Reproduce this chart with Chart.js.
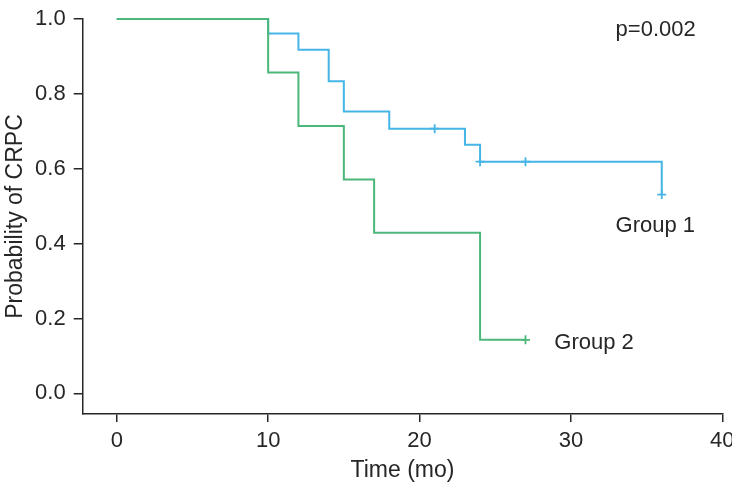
<!DOCTYPE html>
<html>
<head>
<meta charset="utf-8">
<script src="https://cdn.jsdelivr.net/npm/chart.js@4"></script>
<style>
  html, body { margin: 0; padding: 0; background: #fff; }
  #wrap { width: 732px; height: 484px; }
</style>
</head>
<body>
<div id="wrap"><canvas id="myChart"></canvas></div>
<script>

// Kaplan-Meier steps
var group1Times = [0, 10, 12, 14, 15, 18, 21, 23, 24, 27, 36];
var group1Surv = [1.0, 0.961, 0.918, 0.834, 0.753, 0.707, 0.707, 0.664, 0.619, 0.619, 0.531];
var group1CensorTimes = [21, 24, 27, 36];
var group1CensorSurv = [0.707, 0.619, 0.619, 0.531];

var group2Times = [0, 10, 12, 15, 17, 24, 27];
var group2Surv = [1.0, 0.857, 0.714, 0.571, 0.429, 0.143, 0.143];
var group2CensorTimes = [27];
var group2CensorSurv = [0.143];

var xTicks = [0, 10, 20, 30, 40];
var yTicks = [0, 0.2, 0.4, 0.6, 0.8, 1.0];

var blue = '#45b5e6';
var green = '#4cb77a';
var ink = '#262626';
var fontName = '"Liberation Sans", Arial, sans-serif';

function toPoints(xs, ys) {
    return xs.map(function (x, i) { return { x: x, y: ys[i] }; });
}

// text labels placed in data units
var notes = [
    { text: 'p=0.002', x: 35.6, y: 0.971, align: 'center' },
    { text: 'Group 1', x: 32.95, y: 0.447, align: 'left' },
    { text: 'Group 2', x: 28.9, y: 0.134, align: 'left' }
];

var notePlugin = {
    id: 'notes',
    afterDraw: function (chart) {
        var ctx = chart.ctx;
        var xs = chart.scales.x, ys = chart.scales.y;
        ctx.save();
        ctx.fillStyle = ink;
        ctx.font = '22px ' + fontName;
        ctx.textBaseline = 'middle';
        notes.forEach(function (n) {
            ctx.textAlign = n.align;
            ctx.fillText(n.text, xs.getPixelForValue(n.x), ys.getPixelForValue(n.y));
        });
        ctx.restore();
    }
};

function stepSet(label, xs, ys, color) {
    return {
        type: 'line',
        label: label,
        data: toPoints(xs, ys),
        borderColor: color,
        borderWidth: 2,
        stepped: 'before',
        pointRadius: 0,
        fill: false,
        clip: false
    };
}

function censorSet(label, xs, ys, color) {
    return {
        type: 'scatter',
        label: label,
        data: toPoints(xs, ys),
        borderColor: color,
        backgroundColor: color,
        pointStyle: 'cross',
        pointRadius: 4.5,
        pointBorderWidth: 1.8,
        clip: false
    };
}

var ctx = document.getElementById('myChart').getContext('2d');
var myChart = new Chart(ctx, {
    type: 'line',
    data: {
        datasets: [
            stepSet('Group 2', group2Times, group2Surv, green),
            censorSet('Group 2 censored', group2CensorTimes, group2CensorSurv, green),
            stepSet('Group 1', group1Times, group1Surv, blue),
            censorSet('Group 1 censored', group1CensorTimes, group1CensorSurv, blue)
        ]
    },
    options: {
        responsive: true,
        maintainAspectRatio: false,
        animation: false,
        layout: { padding: { top: 19, right: 9.7, left: 0, bottom: 0 } },
        plugins: {
            legend: { display: false },
            tooltip: { enabled: false }
        },
        scales: {
            x: {
                type: 'linear',
                min: -2.25,
                max: 40,
                afterBuildTicks: function (s) {
                    s.ticks = xTicks.map(function (v) { return { value: v }; });
                },
                afterFit: function (s) {
                    s.height = 70;
                    s.paddingLeft = 0;
                    s.paddingRight = 0;
                },
                grid: {
                    drawOnChartArea: false,
                    drawTicks: true,
                    tickLength: 8,
                    tickColor: ink,
                    lineWidth: 1.5
                },
                border: { display: true, color: ink, width: 1.5 },
                ticks: {
                    autoSkip: false,
                    maxRotation: 0,
                    padding: 6,
                    color: ink,
                    font: { family: fontName, size: 22 },
                    callback: function (v) { return String(v); }
                },
                title: {
                    display: true,
                    text: 'Time (mo)',
                    color: ink,
                    font: { family: fontName, size: 23 },
                    padding: { top: 0, bottom: 0 }
                }
            },
            y: {
                type: 'linear',
                min: -0.055,
                max: 1.0,
                afterBuildTicks: function (s) {
                    s.ticks = yTicks.map(function (v) { return { value: v }; });
                },
                afterFit: function (s) {
                    s.width = 82.7;
                    s.paddingTop = 0;
                    s.paddingBottom = 0;
                },
                grid: {
                    drawOnChartArea: false,
                    drawTicks: true,
                    tickLength: 9,
                    tickColor: ink,
                    lineWidth: 1.5
                },
                border: { display: true, color: ink, width: 1.5 },
                ticks: {
                    autoSkip: false,
                    padding: 8,
                    color: ink,
                    font: { family: fontName, size: 22 },
                    callback: function (v) { return Number(v).toFixed(1); }
                },
                title: {
                    display: true,
                    text: 'Probability of CRPC',
                    color: ink,
                    font: { family: fontName, size: 23 },
                    padding: { top: 2, bottom: 0 }
                }
            }
        }
    },
    plugins: [notePlugin]
});
</script>
</body>
</html>
